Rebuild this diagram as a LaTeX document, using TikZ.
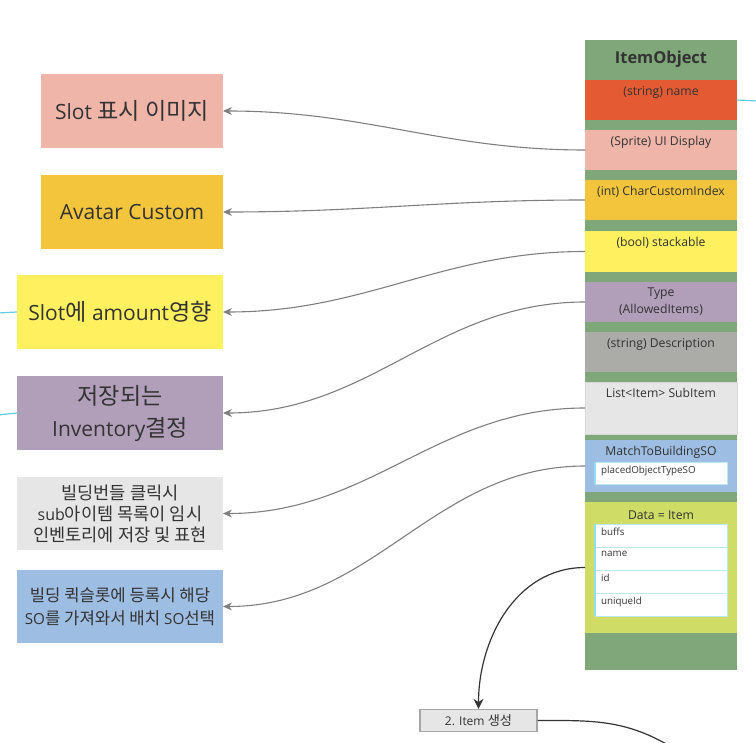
\documentclass[tikz,border=0pt]{standalone}
\usepackage{fontspec}
\setmainfont{Open Sans}
\newfontfamily\krfont[Scale=1.1]{Noto Sans CJK KR}
\newcommand{\ko}[1]{{\krfont #1}}
\usetikzlibrary{positioning,arrows.meta}

\definecolor{objgreen}{HTML}{7FA77A}
\definecolor{fred}{HTML}{E35A33}
\definecolor{fpink}{HTML}{EEB5A8}
\definecolor{fgold}{HTML}{F2C53D}
\definecolor{fyellow}{HTML}{FEF05E}
\definecolor{flav}{HTML}{B19FBA}
\definecolor{fgray}{HTML}{ABABA7}
\definecolor{flight}{HTML}{E6E6E6}
\definecolor{fblue}{HTML}{9DBDE2}
\definecolor{flime}{HTML}{CFDC66}
\definecolor{txt}{HTML}{333333}
\definecolor{linkgray}{HTML}{7F7F7F}
\definecolor{rowline}{HTML}{BDE6EF}
\definecolor{rowedge}{HTML}{8FDDF2}
\definecolor{cyanline}{HTML}{5ECFDF}

\tikzset{
  field/.style={rectangle, minimum width=152, inner sep=0, outer sep=0},
  ftext/.style={anchor=north, inner sep=0, yshift=-6, text=txt, align=center, font=\fontsize{12.2}{17}\selectfont},
  note/.style={rectangle, minimum height=74, inner sep=0, outer sep=0, anchor=north west, align=center, text=txt},
  row/.style={rectangle, draw=rowline, fill=white, minimum width=132, minimum height=23, inner sep=0, anchor=north west},
  rtext/.style={anchor=north west, inner sep=0, xshift=6, yshift=-4, text=txt, font=\fontsize{9.8}{11}\selectfont},
  link/.style={draw=linkgray, line width=1.1, -{Stealth[length=9,width=8]}},
}

\begin{document}
\begin{tikzpicture}[x=1pt, y=-1pt]
\useasboundingbox (0,0) rectangle (756,743);

% ItemObject column
\node[field, fill=objgreen, minimum height=630] (obj) at (661,355) {};
\node[text=txt, font=\bfseries\fontsize{16.4}{19}\selectfont] (objtitle) at (661,59) {ItemObject};

\node[field, fill=fred, minimum height=40] (name) at (661,100) {};
\node[ftext] at (name.north) {(string) name};
\node[field, fill=fpink, minimum height=40] (uidisp) at (661,150) {};
\node[ftext] at (uidisp.north) {(Sprite) UI Display};
\node[field, fill=fgold, minimum height=40] (charidx) at (661,200) {};
\node[ftext] at (charidx.north) {(int) CharCustomIndex};
\node[field, fill=fyellow, minimum height=41] (stack) at (661,251.5) {};
\node[ftext] at (stack.north) {(bool) stackable};
\node[field, fill=flav, minimum height=40] (type) at (661,302) {};
\node[ftext] at (type.north) {Type\\(AllowedItems)};
\node[field, fill=fgray, minimum height=40] (desc) at (661,352) {};
\node[ftext] at (desc.north) {(string) Description};
\node[field, fill=flight, draw=black!15, minimum height=52] (subitem) at (661,408) {};
\node[ftext] at (subitem.north) {List<Item> SubItem};
\node[field, fill=fblue, minimum height=52] (match) at (661,466) {};
\node[ftext] at (match.north) {MatchToBuildingSO};
\node[row, minimum height=22] (placed) at (595,462) {};
\node[rtext] at (placed.north west) {placedObjectTypeSO};
\draw[rowedge, line width=1.5] (placed.north west) -- (placed.south west);

\node[field, fill=flime, minimum height=131] (data) at (661,567.5) {};
\node[ftext, yshift=-3] at (data.north) {Data = Item};
\node[row] (buffs) at (595,524) {};
\node[rtext] at (buffs.north west) {buffs};
\node[row] (iname) at (595,547) {};
\node[rtext] at (iname.north west) {name};
\node[row] (iid) at (595,570) {};
\node[rtext] at (iid.north west) {id};
\node[row] (uid) at (595,593) {};
\node[rtext] at (uid.north west) {uniqueId};
\draw[rowedge, line width=1.5] (buffs.north west) -- (uid.south west);

% notes on the left
\node[note, fill=fpink, minimum width=182, font=\fontsize{21}{30}\selectfont] (slotimg) at (41,74) {Slot \ko{표시 이미지}};
\node[note, fill=fgold, minimum width=182, font=\fontsize{21}{30}\selectfont] (avatar) at (41,175) {Avatar Custom};
\node[note, fill=fyellow, minimum width=206, font=\fontsize{21}{30}\selectfont] (amount) at (17,275) {Slot\ko{에} amount\ko{영향}};
\node[note, fill=flav, minimum width=206, font=\fontsize{21}{32}\selectfont] (invent) at (17,376) {\ko{저장되는}\\Inventory\ko{결정}};
\node[note, fill=flight, minimum width=206, minimum height=73, font=\fontsize{16}{21}\selectfont] (bundle) at (17,477) {\ko{빌딩번들 클릭시}\\sub\ko{아이템 목록이 임시}\\\ko{인벤토리에 저장 및 표현}};
\node[note, fill=fblue, minimum width=206, minimum height=73, font=\fontsize{15.2}{23}\selectfont] (quick) at (17,570) {\ko{빌딩 퀵슬롯에 등록시 해당}\\SO\ko{를 가져와서 배치} SO\ko{선택}};

% item step
\node[rectangle, draw=black!35, line width=1.3, fill=flight, minimum width=117, minimum height=22, inner sep=0, text=txt, font=\fontsize{12}{13}\selectfont] (mkitem) at (478.5,720.5) {2. Item \ko{생성}};

% free ends
\coordinate (nameout) at (758,101);
\coordinate (amountin) at (-2,313);
\coordinate (inventin) at (-2,415);
\coordinate (mkout) at (668,745);

% links
\draw[link] (uidisp.west) to[out=180, in=0] (slotimg.east);
\draw[link] (charidx.west) to[out=180, in=0] (avatar.east);
\draw[link] (stack.west) to[out=180, in=0] (amount.east);
\draw[link] (type.west) to[out=180, in=0] (invent.east);
\draw[link] (subitem.west) to[out=180, in=0] (bundle.east);
\draw[link] (match.west) to[out=180, in=0] (quick.east);
\draw[black!80, line width=1.2, -{Stealth[length=10,width=10]}] (data.west) to[out=180, in=90] (mkitem.north);
\draw[black!80, line width=1.2] (mkitem.east) to[out=0, in=150] (mkout);

\draw[cyanline, line width=1.2] (name.east) -- (nameout);
\draw[cyanline, line width=1.2] (amountin) -- (amount.west);
\draw[cyanline, line width=1.2] (inventin) -- (invent.west);
\end{tikzpicture}
\end{document}
